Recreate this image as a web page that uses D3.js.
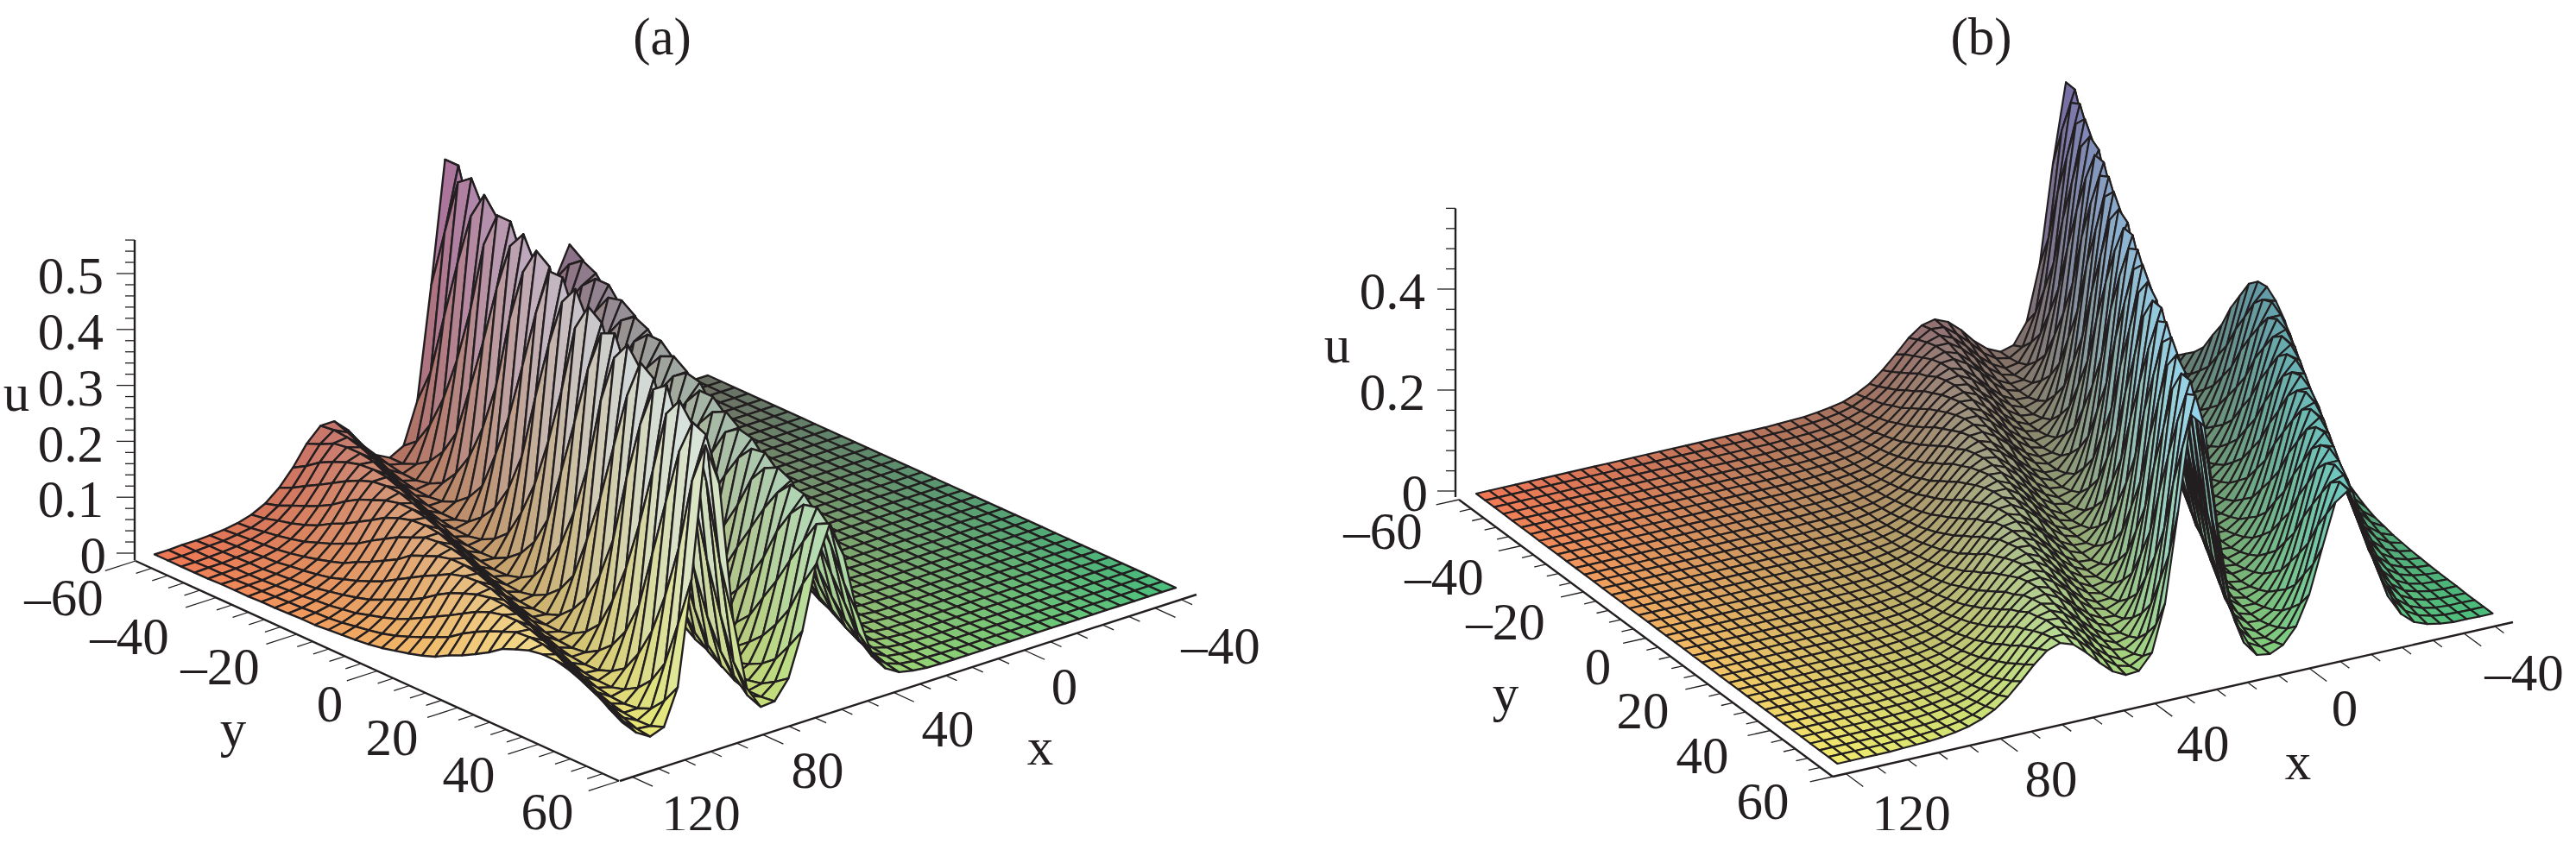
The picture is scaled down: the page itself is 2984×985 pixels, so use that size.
<!DOCTYPE html>
<html><head><meta charset="utf-8">
<script src="https://cdn.jsdelivr.net/npm/d3@7"></script>
<style>html,body{margin:0;background:#fff}svg{display:block}text{font-family:"Liberation Serif",serif;fill:#231f20}</style>
</head><body><svg id="c" width="2984" height="985"></svg>
<script>
// u x 1000 read per grid vertex. Outer index: y line (from y=-60), inner index: x line (from x=-50). Omitted trailing entries are 0.
const heightsA = [
[0,0,0,1,4,8,22,55,127,239,314,261,148,67,31,26,61,180,425,538,321,123,50,37,50,76,110,134,134,110,75,47,27,15,8,4,2,1,1],
[0,0,0,1,2,6,15,38,92,192,297,297,192,93,41,25,40,117,318,538,426,185,69,37,43,65,96,125,137,120,89,58,34,19,10,6,3,2,1],
[0,0,0,0,1,4,9,24,60,137,250,315,250,138,62,29,27,68,200,451,527,295,110,47,38,53,79,113,135,132,106,72,45,26,14,8,4,2,1],
[0,0,0,0,1,3,6,17,42,100,204,303,289,181,86,38,25,45,131,344,545,401,168,63,37,44,67,99,128,136,118,85,55,32,18,10,5,3,1,1],
[0,0,0,0,1,2,4,11,29,72,158,272,312,228,119,53,27,32,84,243,495,496,247,91,42,39,57,85,118,136,128,99,66,40,23,12,7,4,2,1],
[0,0,0,0,0,1,3,8,20,51,118,228,312,272,159,73,33,25,55,162,399,545,347,136,54,37,48,73,106,132,135,113,79,50,29,16,8,4,2,1,1],
[0,0,0,0,0,1,2,5,12,32,78,169,281,308,216,110,48,26,34,94,267,513,475,226,82,40,40,60,89,120,137,125,96,64,38,21,12,6,3,2,1],
[0,0,0,0,0,0,1,4,8,22,55,127,239,314,261,148,67,31,26,61,180,425,538,321,123,50,37,50,76,110,134,134,110,75,47,27,15,8,4,2,1],
[0,0,0,0,0,0,1,2,6,15,38,92,192,297,297,192,93,41,25,40,117,318,538,426,185,69,37,43,65,96,125,137,120,89,58,34,19,10,6,3,2],
[0,0,0,0,0,0,1,1,4,10,26,66,147,261,314,239,128,57,28,29,76,221,474,513,271,100,44,39,55,82,115,136,130,103,69,42,24,13,7,4,2],
[0,0,0,0,0,0,0,1,3,6,17,42,100,204,303,289,181,86,38,25,45,131,344,545,401,168,63,37,44,67,99,128,136,118,85,55,32,18,10,5,3],
[0,0,0,0,0,0,0,1,2,4,11,29,72,158,272,312,228,119,53,27,32,84,243,495,496,247,91,42,39,57,85,118,136,128,99,66,40,23,12,7,4],
[0,0,0,0,0,0,0,0,1,3,8,20,51,118,228,312,272,159,73,33,25,55,162,399,545,347,136,54,37,48,73,106,132,135,113,79,50,29,16,8,4],
[0,0,0,0,0,0,0,0,1,2,5,14,35,85,181,289,303,204,101,45,26,37,105,292,527,452,205,75,38,41,63,93,123,137,123,92,61,36,20,11,6],
[0,0,0,0,0,0,0,0,0,1,4,8,22,55,127,239,314,261,148,67,31,26,61,180,425,538,321,123,50,37,50,76,110,134,134,110,75,47,27,15,8],
[0,0,0,0,0,0,0,0,0,1,2,6,15,38,92,192,297,297,192,93,41,25,40,117,318,538,426,185,69,37,43,65,96,125,137,120,89,58,34,19,10],
[0,0,0,0,0,0,0,0,0,1,1,4,10,26,66,147,261,314,239,128,57,28,29,76,221,474,513,271,100,44,39,55,82,115,136,130,103,69,42,24,13],
[0,0,0,0,0,0,0,0,0,0,1,3,7,18,46,109,216,308,281,169,79,36,25,50,146,371,547,374,151,58,37,46,70,103,130,136,115,82,53,31,17],
[0,0,0,0,0,0,0,0,0,0,1,2,4,11,29,72,158,272,312,228,119,53,27,32,84,243,495,496,247,91,42,39,57,85,118,136,128,99,66,40,23],
[0,0,0,0,0,0,0,0,0,0,0,1,3,8,20,51,118,228,312,272,159,73,33,25,55,162,399,545,347,136,54,37,48,73,106,132,135,113,79,50,29],
[0,0,0,0,0,0,0,0,0,0,0,1,2,5,14,35,85,181,289,303,204,101,45,26,37,105,292,527,452,205,75,38,41,63,93,123,137,123,92,61,36],
[0,0,0,0,0,0,0,0,0,0,0,0,1,4,9,24,60,137,250,315,250,138,62,29,27,68,200,451,527,295,110,47,38,53,79,113,135,132,106,72,45],
[0,0,0,0,0,0,0,0,0,0,0,0,1,2,6,15,38,92,192,297,297,192,93,41,25,40,117,318,538,426,185,69,37,43,65,96,125,137,120,89,58],
[0,0,0,0,0,0,0,0,0,0,0,0,1,1,4,10,26,66,147,261,314,239,128,57,28,29,76,221,474,513,271,100,44,39,55,82,115,136,130,103,69],
[0,0,0,0,0,0,0,0,0,0,0,0,0,1,3,7,18,46,109,216,308,281,169,79,36,25,50,146,371,547,374,151,58,37,46,70,103,130,136,115,82],
[0,0,0,0,0,0,0,0,0,0,0,0,0,1,2,5,12,32,78,169,281,308,216,110,48,26,34,94,267,513,475,226,82,40,40,60,89,120,137,125,96],
[0,0,0,0,0,0,0,0,0,0,0,0,0,0,1,3,8,20,51,118,228,312,272,159,73,33,25,55,162,399,545,347,136,54,37,48,73,106,132,135,113],
[0,0,0,0,0,0,0,0,0,0,0,0,0,0,1,2,5,14,35,85,181,289,303,204,101,45,26,37,105,292,527,452,205,75,38,41,63,93,123,137,123],
[0,0,0,0,0,0,0,0,0,0,0,0,0,0,0,1,4,9,24,60,137,250,315,250,138,62,29,27,68,200,451,527,295,110,47,38,53,79,113,135,132],
[0,0,0,0,0,0,0,0,0,0,0,0,0,0,0,1,3,6,17,42,100,204,303,289,181,86,38,25,45,131,344,545,401,168,63,37,44,67,99,128,136],
[0,0,0,0,0,0,0,0,0,0,0,0,0,0,0,1,1,4,10,26,66,147,261,314,239,128,57,28,29,76,221,474,513,271,100,44,39,55,82,115,136],
[0,0,0,0,0,0,0,0,0,0,0,0,0,0,0,0,1,3,7,18,46,109,216,308,281,169,79,36,25,50,146,371,547,374,151,58,37,46,70,103,130],
[0,0,0,0,0,0,0,0,0,0,0,0,0,0,0,0,1,2,5,12,32,78,169,281,308,216,110,48,26,34,94,267,513,475,226,82,40,40,60,89,120],
[0,0,0,0,0,0,0,0,0,0,0,0,0,0,0,0,0,1,4,8,22,55,127,239,314,261,148,67,31,26,61,180,425,538,321,123,50,37,50,76,110],
[0,0,0,0,0,0,0,0,0,0,0,0,0,0,0,0,0,1,2,5,14,35,85,181,289,303,204,101,45,26,37,105,292,527,452,205,75,38,41,63,93],
[0,0,0,0,0,0,0,0,0,0,0,0,0,0,0,0,0,0,1,4,9,24,60,137,250,315,250,138,62,29,27,68,200,451,527,295,110,47,38,53,79]
];
const heightsB = [
[24,46,113,259,469,547,390,198,90,50,43,55,76,104,126,137,131,112,85,60,39,25,15,10,6,3,2,1],
[20,33,79,191,385,546,471,265,122,60,44,49,66,92,115,135,137,122,99,70,47,31,19,12,8,5,3,1,1],
[21,24,51,124,279,486,539,368,183,83,48,43,57,78,105,127,138,130,109,82,57,38,24,15,9,5,3,2,1],
[26,22,36,86,207,406,550,451,247,113,57,43,50,69,95,119,136,136,119,94,67,45,29,18,11,7,4,2,1,1],
[33,21,25,56,135,299,502,530,346,169,77,47,45,58,81,107,129,138,129,107,80,55,36,23,14,9,5,3,2,1],
[43,24,22,39,93,223,427,553,432,230,104,54,44,52,72,100,122,137,135,115,91,64,43,28,17,10,6,4,2,1,1],
[60,31,21,27,60,148,320,516,517,325,156,72,45,46,60,83,109,130,138,127,105,77,53,34,22,13,8,5,3,2,1],
[77,40,23,23,43,103,240,449,551,411,214,96,52,44,54,75,102,124,137,133,114,89,62,41,27,16,10,6,4,2,1],
[100,52,28,20,31,72,176,363,538,488,285,133,64,44,47,64,90,112,133,137,124,102,73,49,32,20,12,8,5,3,2,1],
[137,72,37,22,24,46,113,259,469,547,390,198,90,50,43,55,76,104,126,137,131,112,85,60,39,25,15,10,6,3,2,1],
[171,94,49,27,20,33,79,191,385,546,471,265,122,60,44,49,66,92,115,135,137,122,99,70,47,31,19,12,8,5,3,1,1],
[218,129,68,35,21,24,51,124,279,486,539,368,183,83,48,43,57,78,105,127,138,130,109,82,57,38,24,15,9,5,3,2,1],
[255,162,89,46,26,22,36,86,207,406,550,451,247,113,57,43,50,69,95,119,136,136,119,94,67,45,29,18,11,7,4,2,1,1],
[292,208,121,64,33,21,25,56,135,299,502,530,346,169,77,47,45,58,81,107,129,138,129,107,80,55,36,23,14,9,5,3,2,1],
[310,246,153,83,43,24,22,39,93,223,427,553,432,230,104,54,44,52,72,100,122,137,135,115,91,64,43,28,17,10,6,4,2,1,1],
[313,286,199,114,60,31,21,27,60,148,320,516,517,325,156,72,45,46,60,83,109,130,138,127,105,77,53,34,22,13,8,5,3,2,1],
[298,307,237,145,77,40,23,23,43,103,240,449,551,411,214,96,52,44,54,75,102,124,137,133,114,89,62,41,27,16,10,6,4,2,1],
[272,315,272,180,100,52,28,20,31,72,176,363,538,488,285,133,64,44,47,64,90,112,133,137,124,102,73,49,32,20,12,8,5,3,2,1],
[228,303,303,228,137,72,37,22,24,46,113,259,469,547,390,198,90,50,43,55,76,104,126,137,131,112,85,60,39,25,15,10,6,3,2,1],
[190,279,314,264,171,94,49,27,20,33,79,191,385,546,471,265,122,60,44,49,66,92,115,135,137,122,99,70,47,31,19,12,8,5,3,1,1],
[145,237,307,298,218,129,68,35,21,24,51,124,279,486,539,368,183,83,48,43,57,78,105,127,138,130,109,82,57,38,24,15,9,5,3,2,1],
[114,199,286,313,255,162,89,46,26,22,36,86,207,406,550,451,247,113,57,43,50,69,95,119,136,136,119,94,67,45,29,18,11,7,4,2,1,1],
[82,153,246,310,292,208,121,64,33,21,25,56,135,299,502,530,346,169,77,47,45,58,81,107,129,138,129,107,80,55,36,23,14,9,5,3,2,1],
[63,121,208,292,310,246,153,83,43,24,22,39,93,223,427,553,432,230,104,54,44,52,72,100,122,137,135,115,91,64,43,28,17,10,6,4,2,1,1],
[44,88,162,255,313,286,199,114,60,31,21,27,60,148,320,516,517,325,156,72,45,46,60,83,109,130,138,127,105,77,53,34,22,13,8,5,3,2,1],
[33,67,129,218,298,307,237,145,77,40,23,23,43,103,240,449,551,411,214,96,52,44,54,75,102,124,137,133,114,89,62,41,27,16,10,6,4,2,1],
[23,48,94,171,264,314,279,190,107,56,29,21,29,65,161,341,529,503,305,144,68,44,46,63,86,112,131,137,126,104,75,51,33,21,13,8,5,3,2,1],
[16,35,72,137,228,303,303,228,137,72,37,22,24,46,113,259,469,547,390,198,90,50,43,55,76,104,126,137,131,112,85,60,39,25,15,10,6,3,2,1],
[12,26,55,107,190,279,314,264,171,94,49,27,20,33,79,191,385,546,471,265,122,60,44,49,66,92,115,135,137,122,99,70,47,31,19,12,8,5,3,1,1],
[8,18,38,77,145,237,307,298,218,129,68,35,21,24,51,124,279,486,539,368,183,83,48,43,57,78,105,127,138,130,109,82,57,38,24,15,9,5,3,2,1],
[6,13,28,59,114,199,286,313,255,162,89,46,26,22,36,86,207,406,550,451,247,113,57,43,50,69,95,119,136,136,119,94,67,45,29,18,11,7,4,2,1,1],
[4,9,19,41,82,153,246,310,292,208,121,64,33,21,25,56,135,299,502,530,346,169,77,47,45,58,81,107,129,138,129,107,80,55,36,23,14,9,5,3,2,1],
[3,6,14,30,63,121,208,292,310,246,153,83,43,24,22,39,93,223,427,553,432,230,104,54,44,52,72,100,122,137,135,115,91,64,43,28,17,10,6,4,2,1,1],
[2,4,10,21,44,88,162,255,313,286,199,114,60,31,21,27,60,148,320,516,517,325,156,72,45,46,60,83,109,130,138,127,105,77,53,34,22,13,8,5,3,2,1],
[1,3,7,15,33,67,129,218,298,307,237,145,77,40,23,23,43,103,240,449,551,411,214,96,52,44,54,75,102,124,137,133,114,89,62,41,27,16,10,6,4,2,1],
[1,2,4,10,23,48,94,171,264,314,279,190,107,56,29,21,29,65,161,341,529,503,305,144,68,44,46,63,86,112,131,137,126,104,75,51,33,21,13,8,5,3,2,1],
[1,1,3,8,16,35,72,137,228,303,303,228,137,72,37,22,24,46,113,259,469,547,390,198,90,50,43,55,76,104,126,137,131,112,85,60,39,25,15,10,6,3,2,1],
[0,1,2,5,12,26,55,107,190,279,314,264,171,94,49,27,20,33,79,191,385,546,471,265,122,60,44,49,66,92,115,135,137,122,99,70,47,31,19,12,8,5,3,1,1],
[0,1,1,3,8,18,38,77,145,237,307,298,218,129,68,35,21,24,51,124,279,486,539,368,183,83,48,43,57,78,105,127,138,130,109,82,57,38,24,15,9,5,3,2,1],
[0,0,1,2,6,13,28,59,114,199,286,313,255,162,89,46,26,22,36,86,207,406,550,451,247,113,57,43,50,69,95,119,136,136,119,94,67,45,29,18,11,7,4,2,1,1],
[0,0,1,1,4,9,19,41,82,153,246,310,292,208,121,64,33,21,25,56,135,299,502,530,346,169,77,47,45,58,81,107,129,138,129,107,80,55,36,23,14,9,5,3,2,1]
];
const xMajor = [120,80,40,0,-40];
const yMajor = [-60,-40,-20,0,20,40,60];
const uMajorA = [0,0.1,0.2,0.3,0.4,0.5];
const uMajorB = [0,0.2,0.4];
const xMinorStep = 8, yMinorStep = 4;
const uMinorStepA = 0.02, uMinorStepB = 0.04;
const uTop = 0.56;
const surfaceX = [-50,120], surfaceY = [-60,60];

const ink = "#231f20";
const panels = [
 { title:"(a)", titleAt:[767,43], heights:heightsA, nx:40, meshWidth:2.4, uMajor:uMajorA, uStep:uMinorStepA,
   uFmt:d=>d===0?"0":d.toFixed(1),
   far:[820,435], left:[179,642.5], right:[1362,681], uPerUnit:648,
   uAxisX:156, uAxisBase:649.5, uRange:[641,317], uLabelX:120,
   yAxis:[[157,650],[717,905]], xAxis:[[718,905],[1386,689]], xAxisDomain:[123.8,-52.7],
   yTick:[37,19], xTick:[26,14],
   xLabelAt:[[812,943],[947,893],[1098,845],[1233,796],[1414,749]],
   yLabelAt:[[74,693],[150,738],[255,773],[382,816],[454,855],[543,898],[634,941]],
   uLetter:[19,464], yLetter:[270,853], xLetter:[1205,874] },
 { title:"(b)", titleAt:[2295,43], heights:heightsB, nx:50, meshWidth:2.2, uMajor:uMajorB, uStep:uMinorStepB,
   uFmt:d=>d===0?"0":d.toFixed(1),
   far:[2469,398], left:[1710,572], right:[2887.5,711], uPerUnit:585,
   uAxisX:1686, uAxisBase:576, uRange:[569,335], uLabelX:1651,
   yAxis:[[1690,579],[2123,900]], xAxis:[[2123,900],[2911,721]], xAxisDomain:[123.4,-52.7],
   yTick:[27,14], xTick:[25,13],
   xLabelAt:[[2214,943],[2376,903],[2552,862],[2716,821],[2924,780]],
   yLabelAt:[[1602,616],[1673,669],[1744,721],[1851,773],[1903,824],[1972,876],[2042,929]],
   uLetter:[1549,408], yLetter:[1744,812], xLetter:[2662,891] }
];

const svg = d3.select("#c");
svg.append("defs").append("clipPath").attr("id","pg").append("rect").attr("width",2984).attr("height",962);
const root = svg.append("g").attr("clip-path","url(#pg)");

// colour scales over the surface coordinates
const mix = (a,b,c,d,s,t)=>d3.scaleLinear([0,1],[d3.scaleLinear([0,1],[a,b])(s),d3.scaleLinear([0,1],[c,d])(s)])(t);
function cellColor(s,t,u){
  const lift = u/0.55, mid = 4*t*(1-t);
  const r = mix(105,240,72,242,s,t) + lift*12*mid;
  const g = mix(110,118,190,236,s,t) + lift*30*mid;
  const b = mix(100,85,125,110,s,t) + lift*(75+50*t+15*mid);
  return d3.rgb(Math.min(255,r),Math.min(255,g),Math.min(255,b)).formatHex();
}

panels.forEach(p=>{
  const g = root.append("g");
  const ny = p.heights.length-1;
  const nx = p.nx;
  const sx = d3.scaleLinear(surfaceX,[0,1]), ty = d3.scaleLinear(surfaceY,[0,1]);
  const xs = d3.range(nx+1).map(i=>surfaceX[0]+i*(surfaceX[1]-surfaceX[0])/nx);
  const ys = d3.range(ny+1).map(j=>surfaceY[0]+j*(surfaceY[1]-surfaceY[0])/ny);
  const project = (x,y,u)=>{
    const s=sx(x), t=ty(y);
    return [p.far[0]+s*(p.left[0]-p.far[0])+t*(p.right[0]-p.far[0]),
            p.far[1]+s*(p.left[1]-p.far[1])+t*(p.right[1]-p.far[1])-u*p.uPerUnit];
  };
  const H=(j,i)=>(p.heights[j][i]??0)/1000;
  const cells=[];
  for(let j=0;j<ny;j++) for(let i=0;i<nx;i++){
    const q=[[i,j],[i+1,j],[i+1,j+1],[i,j+1]];
    const us=q.map(([a,b])=>H(b,a));
    cells.push({pts:q.map(([a,b])=>project(xs[a],ys[b],H(b,a))),
      fill:cellColor((i+.5)/nx,(j+.5)/ny,d3.mean(us))});
  }
  // axes
  const uY = d3.scaleLinear([0,p.uMajor[p.uMajor.length-1]],p.uRange);
  const axis = g.append("g").attr("stroke",ink).attr("fill","none");
  const poly=(a,b)=>axis.append("line").attr("x1",a[0]).attr("y1",a[1]).attr("x2",b[0]).attr("y2",b[1]).attr("stroke-width",2.4);
  poly([p.uAxisX,p.uAxisBase],[p.uAxisX,uY(uTop)]);
  poly(p.yAxis[0],p.yAxis[1]); poly(p.xAxis[0],p.xAxis[1]);
  const tick=(a,dx,dy,w)=>axis.append("line").attr("x1",a[0]).attr("y1",a[1]).attr("x2",a[0]+dx).attr("y2",a[1]+dy).attr("stroke-width",w);
  d3.range(0,uTop+1e-6,p.uStep).forEach(v=>{
    const major=p.uMajor.some(m=>Math.abs(m-v)<1e-6);
    tick([p.uAxisX,uY(v)],major?-21:-11,0,1.3);
  });
  const yAlong=d3.scaleLinear([-60,60],[0,1]);
  const yDir=[p.xAxis[0][0]-p.xAxis[1][0],p.xAxis[0][1]-p.xAxis[1][1]], yN=Math.hypot(...yDir);
  d3.range(-60,60.1,yMinorStep).forEach(v=>{
    const f=yAlong(v), a=[p.yAxis[0][0]+f*(p.yAxis[1][0]-p.yAxis[0][0]),p.yAxis[0][1]+f*(p.yAxis[1][1]-p.yAxis[0][1])];
    const L=p.yTick[yMajor.includes(v)?0:1];
    tick(a,yDir[0]/yN*L,yDir[1]/yN*L,1.3);
  });
  const xAlong=d3.scaleLinear(p.xAxisDomain,[0,1]);
  const xDir=[p.yAxis[1][0]-p.yAxis[0][0],p.yAxis[1][1]-p.yAxis[0][1]], xN=Math.hypot(...xDir);
  d3.range(-48,120.1,xMinorStep).forEach(v=>{
    const f=xAlong(v), a=[p.xAxis[0][0]+f*(p.xAxis[1][0]-p.xAxis[0][0]),p.xAxis[0][1]+f*(p.xAxis[1][1]-p.xAxis[0][1])];
    const L=p.xTick[xMajor.includes(v)?0:1];
    tick(a,xDir[0]/xN*L,xDir[1]/xN*L,1.3);
  });
  // surface, painted far to near
  const line=d3.line();
  g.append("g").selectAll("path").data(cells).join("path")
    .attr("d",d=>line(d.pts)+"Z").attr("fill",d=>d.fill)
    .attr("stroke",ink).attr("stroke-width",p.meshWidth).attr("stroke-linejoin","round");
  // labels
  const text=(s,at,anchor="middle")=>g.append("text").attr("x",at[0]).attr("y",at[1]).attr("dy","0.33em")
    .attr("text-anchor",anchor).attr("font-size",61).text(s);
  text(p.title,p.titleAt);
  p.uMajor.forEach(v=>text(p.uFmt(v),[p.uLabelX+(v===0?3:0),uY(v)+3],"end"));
  xMajor.forEach((v,k)=>text(v<0?"\u2013"+(-v):String(v),p.xLabelAt[k]));
  yMajor.forEach((v,k)=>text(v<0?"\u2013"+(-v):String(v),p.yLabelAt[k]));
  g.append("text").attr("x",p.uLetter[0]).attr("y",p.uLetter[1]).attr("dy","0.2em").attr("text-anchor","middle").attr("font-size",61).text("u");
  g.append("text").attr("x",p.yLetter[0]).attr("y",p.yLetter[1]).attr("dy","0.2em").attr("text-anchor","middle").attr("font-size",61).text("y");
  g.append("text").attr("x",p.xLetter[0]).attr("y",p.xLetter[1]).attr("dy","0.2em").attr("text-anchor","middle").attr("font-size",61).text("x");
});
</script></body></html>
